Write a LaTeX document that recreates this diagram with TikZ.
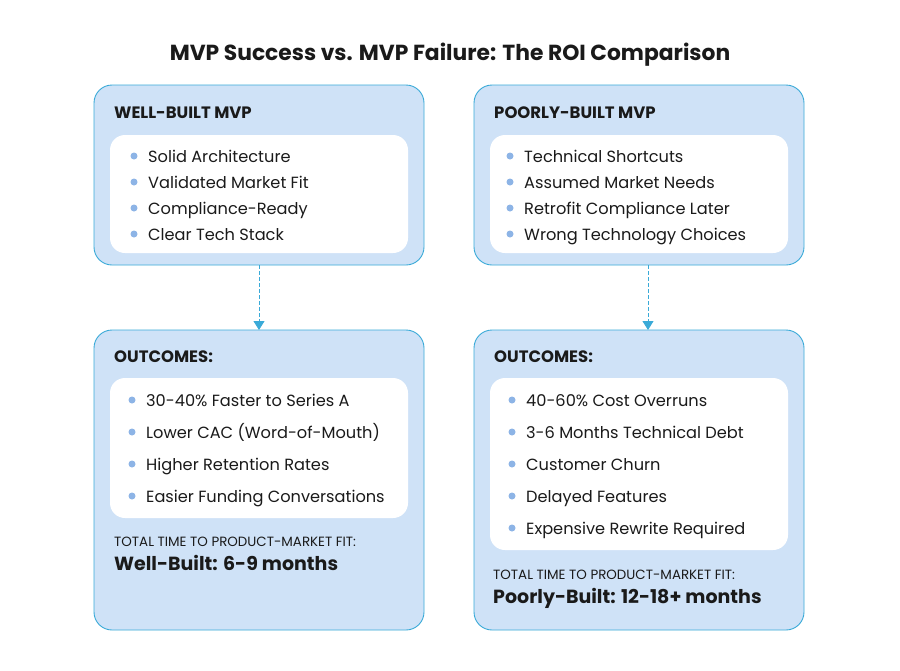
\documentclass[tikz,border=0pt]{standalone}
\usepackage{fontspec}
\setmainfont{Poppins}
\usetikzlibrary{arrows.meta}
\definecolor{boxfill}{HTML}{CFE2F7}
\definecolor{boxline}{HTML}{3AAAD8}
\definecolor{dotc}{HTML}{8DB4E6}
\definecolor{txt}{HTML}{1A1A1A}
\tikzset{
  outer/.style={draw=boxline, fill=boxfill, line width=0.9pt, rounded corners=18pt},
  inner/.style={fill=white, draw=none, rounded corners=15pt},
  head/.style={anchor=base west, font=\fontsize{16.5}{16}\selectfont\bfseries, text=txt, inner sep=0pt},
  item/.style={anchor=base west, font=\fontsize{16.2}{16}\selectfont, text=txt, inner sep=0pt},
  dot/.style={circle, fill=dotc, inner sep=0pt, minimum size=7pt},
  small/.style={anchor=base west, font=\fontsize{13.4}{13}\selectfont, text=txt, inner sep=0pt},
  big/.style={anchor=base west, font=\fontsize{19}{19}\selectfont\bfseries, text=txt, inner sep=0pt},
  conn/.style={draw=boxline, line width=0.9pt, dash pattern=on 3.5pt off 2.5pt, -{Triangle[length=9pt,width=11pt,fill=boxline]}},
}
\begin{document}
\begin{tikzpicture}[x=1pt,y=-1pt]
\useasboundingbox (0,0) rectangle (900,670);
\fill[white] (0,0) rectangle (900,670);
\node[anchor=base, font=\fontsize{21.8}{22}\selectfont\bfseries, text=txt] (title) at (450,60) {MVP Success vs. MVP Failure: The ROI Comparison};
% top boxes
\path[outer] (94,85) rectangle (424,265);
\coordinate (b1top) at (259,265);
\path[inner] (110,135) rectangle (408,253);
\node[head] (h1) at (114,118) {WELL-BUILT MVP};
\foreach \t [count=\i] in {Solid Architecture, Validated Market Fit, Compliance-Ready, Clear Tech Stack}{
  \node[dot] (d1\i) at (134,130+26*\i) {};
  \node[item] (i1\i) at (148,136+26*\i) {\t};
}
\path[outer] (474,85) rectangle (804,265);
\coordinate (b2top) at (648,265);
\path[inner] (490,135) rectangle (788,253);
\node[head] (h2) at (494,118) {POORLY-BUILT MVP};
\foreach \t [count=\i] in {Technical Shortcuts, Assumed Market Needs, Retrofit Compliance Later, Wrong Technology Choices}{
  \node[dot] (d2\i) at (510,130+26*\i) {};
  \node[item] (i2\i) at (524,136+26*\i) {\t};
}
% bottom boxes
\path[outer] (94,330) rectangle (424,630);
\coordinate (b3top) at (259,330);
\path[inner] (110,378) rectangle (408,518);
\node[head] (h3) at (114,362) {OUTCOMES:};
\foreach \t [count=\i] in {30-40\% Faster to Series A, Lower CAC (Word-of-Mouth), Higher Retention Rates, Easier Funding Conversations}{
  \node[dot] (d3\i) at (132,368+32*\i) {};
  \node[item] (i3\i) at (146,374+32*\i) {\t};
}
\node[small] (s3) at (114,546) {TOTAL TIME TO PRODUCT-MARKET FIT:};
\node[big] (g3) at (114,570) {Well-Built: 6-9 months};
\path[outer] (474,330) rectangle (804,630);
\coordinate (b4top) at (648,330);
\path[inner] (490,378) rectangle (788,550);
\node[head] (h4) at (494,362) {OUTCOMES:};
\foreach \t [count=\i] in {40-60\% Cost Overruns, 3-6 Months Technical Debt, Customer Churn, Delayed Features, Expensive Rewrite Required}{
  \node[dot] (d4\i) at (512,368+32*\i) {};
  \node[item] (i4\i) at (526,374+32*\i) {\t};
}
\node[small] (s4) at (493,579) {TOTAL TIME TO PRODUCT-MARKET FIT:};
\node[big] (g4) at (493,603) {Poorly-Built: 12-18+ months};
% connectors
\draw[conn] (b1top) -- (b3top);
\draw[conn] (b2top) -- (b4top);
\end{tikzpicture}
\end{document}
